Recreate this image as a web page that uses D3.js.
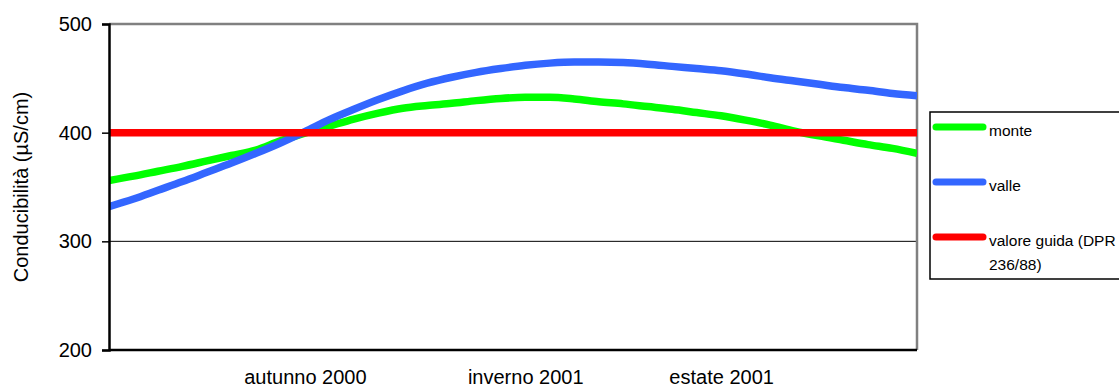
<!DOCTYPE html>
<html>
<head>
<meta charset="utf-8">
<script src="https://cdn.jsdelivr.net/npm/d3@7"></script>
<style>
  html, body { margin: 0; padding: 0; background: #fff; }
  svg { display: block; font-family: "Liberation Sans", Arial, sans-serif; }
</style>
</head>
<body>
<svg id="chart" width="1119" height="388"></svg>
<script>
// Sampling positions along the year; only the season labels are shown
const categories = [
  "", "", "", "", "", "", "", "",
  "autunno 2000", "", "", "", "", "", "", "", "",
  "inverno 2001", "", "", "", "", "", "", "",
  "estate 2001", "", "", "", "", "", "", "", ""
];

// Conductivity (µS/cm)
const monte = [
  356, 360, 364.5, 369, 374, 379, 384, 392.5, 399.5, 406,
  412.5, 418, 422.5, 425, 427, 429.5, 431.5, 432.5, 432.5, 431,
  428.5, 426.5, 424, 421.5, 418.5, 415.5, 411.5, 407, 401.5, 397,
  393, 389, 385.5, 381
];
const valle = [
  332, 339, 347, 355, 363.5, 372, 381, 390.5, 401, 412,
  421.5, 430.5, 438.5, 445.5, 451, 455.5, 459, 462, 464, 465,
  465, 464.5, 463, 461, 459, 457, 454, 450.5, 447.5, 444.5,
  441.5, 439, 436, 434
];
const guida = categories.map(() => 400);

const yTicks = [200, 300, 400, 500];
const gridValues = [300, 400];

const seriesNames = ["monte", "valle", "valore guida (DPR 236/88)"];
const seriesColors = ["#00ff00", "#3366ff", "#ff0000"];
const seriesValues = [monte, valle, guida];

const svg = d3.select("#chart");
const plot = { left: 109, right: 917, top: 24, bottom: 350 };

const x = d3.scalePoint()
  .domain(d3.range(categories.length))
  .range([plot.left, plot.right]);

const y = d3.scaleLinear()
  .domain([200, 500])
  .range([plot.bottom, plot.top]);

// Horizontal gridlines
svg.append("g")
  .selectAll("line")
  .data(gridValues)
  .join("line")
  .attr("x1", plot.left).attr("x2", plot.right)
  .attr("y1", d => y(d)).attr("y2", d => y(d))
  .attr("stroke", "#000").attr("stroke-width", 1);

// Plot frame: grey top and right edges
svg.append("path")
  .attr("d", `M${plot.left},${plot.top}H${plot.right}V${plot.bottom}`)
  .attr("fill", "none")
  .attr("stroke", "#808080")
  .attr("stroke-width", 2.5);

// Series lines, clipped to the plot area
svg.append("clipPath").attr("id", "plotClip")
  .append("rect")
  .attr("x", plot.left).attr("y", plot.top)
  .attr("width", plot.right - plot.left).attr("height", plot.bottom - plot.top);

const line = d3.line()
  .x((d, i) => x(i))
  .y(d => y(d))
  .curve(d3.curveMonotoneX);

svg.append("g")
  .attr("clip-path", "url(#plotClip)")
  .selectAll("path")
  .data(seriesValues)
  .join("path")
  .attr("d", d => line(d))
  .attr("fill", "none")
  .attr("stroke", (d, i) => seriesColors[i])
  .attr("stroke-width", 7.5)
  .attr("stroke-linejoin", "round");

// Axes
const yAxis = svg.append("g")
  .attr("transform", `translate(${plot.left},0)`)
  .call(d3.axisLeft(y).tickValues(yTicks).tickSize(7).tickPadding(10).tickFormat(d3.format("d")));
yAxis.select(".domain").attr("stroke", "#000").attr("stroke-width", 2.5);
yAxis.selectAll(".tick line").attr("stroke", "#000").attr("stroke-width", 1.5);
yAxis.selectAll(".tick text")
  .attr("font-size", 20)
  .attr("font-family", "'Liberation Sans', Arial, sans-serif")
  .attr("fill", "#000");

const xAxis = svg.append("g")
  .attr("transform", `translate(0,${plot.bottom})`)
  .call(d3.axisBottom(x)
    .tickValues(d3.range(categories.length).filter(i => categories[i] !== ""))
    .tickFormat(i => categories[i])
    .tickSize(0)
    .tickPadding(20));
xAxis.select(".domain")
  .attr("d", `M${plot.left},0H${plot.right}`)
  .attr("stroke", "#000").attr("stroke-width", 2.5);
xAxis.selectAll(".tick text")
  .attr("font-size", 20)
  .attr("font-family", "'Liberation Sans', Arial, sans-serif")
  .attr("fill", "#000");

// Y axis title
svg.append("text")
  .attr("transform", `translate(28,${(plot.top + plot.bottom) / 2}) rotate(-90)`)
  .attr("text-anchor", "middle")
  .attr("font-size", 20)
  .attr("fill", "#000")
  .text("Conducibilità (µS/cm)");

// Legend
const legend = svg.append("g");
legend.append("rect")
  .attr("x", 930).attr("y", 112)
  .attr("width", 260).attr("height", 167)
  .attr("fill", "#fff")
  .attr("stroke", "#000").attr("stroke-width", 1.5);

const legendRows = [127, 182, 237];
seriesNames.forEach((name, i) => {
  const row = legend.append("g").attr("transform", `translate(0,${legendRows[i]})`);
  row.append("line")
    .attr("x1", 936).attr("x2", 983)
    .attr("stroke", seriesColors[i])
    .attr("stroke-width", 7)
    .attr("stroke-linecap", "round");
  const words = name === seriesNames[2] ? ["valore guida (DPR", "236/88)"] : [name];
  const t = row.append("text")
    .attr("x", 989).attr("y", 9)
    .attr("font-size", 15.5)
    .attr("fill", "#000");
  words.forEach((w, k) => {
    t.append("tspan").attr("x", 989).attr("dy", k === 0 ? 0 : 23.5).text(w);
  });
});
</script>
</body>
</html>
